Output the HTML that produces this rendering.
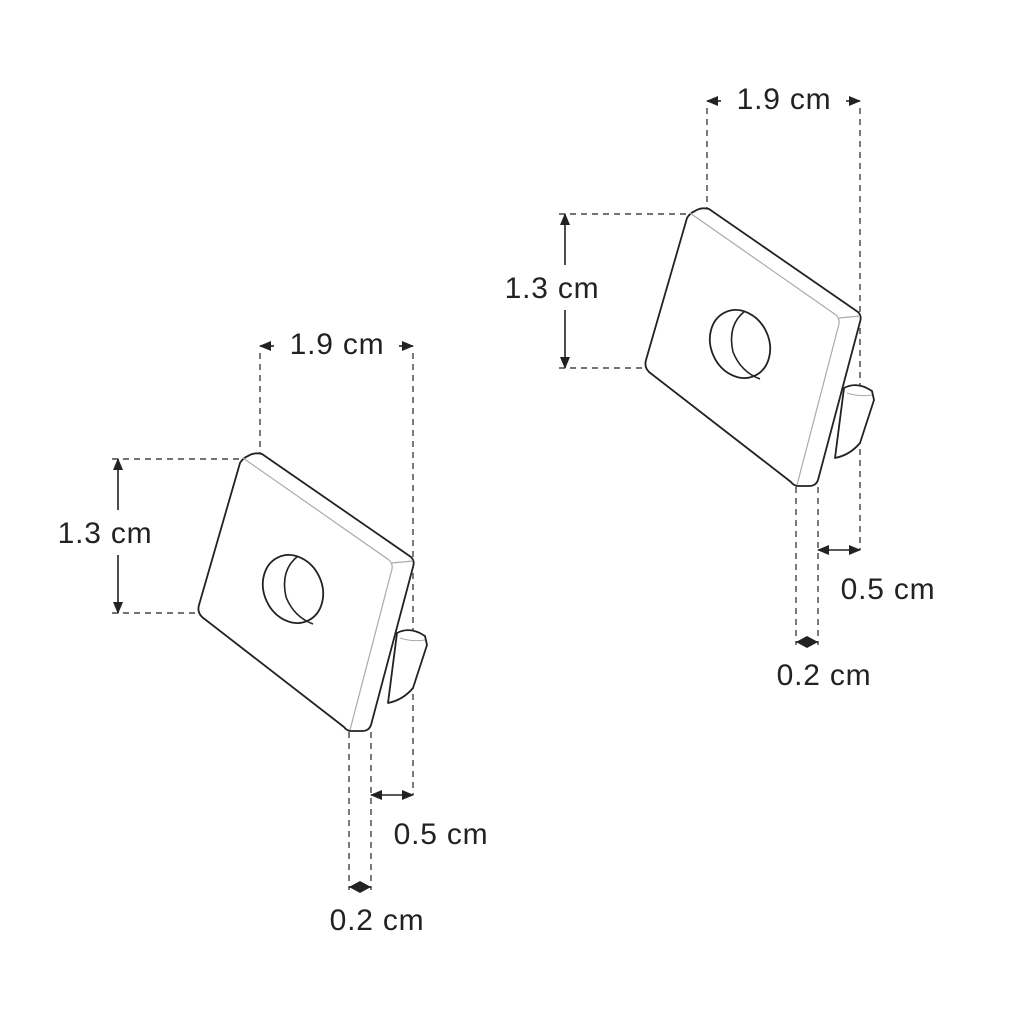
<!DOCTYPE html>
<html><head><style>body{margin:0;background:#fff}svg{display:block}text{font-family:"Liberation Sans",sans-serif;font-size:30px;letter-spacing:0.8px;fill:#222}</style></head>
<body>
<svg width="1024" height="1024" viewBox="0 0 1024 1024" xmlns="http://www.w3.org/2000/svg">
<defs>
<marker id="a" markerWidth="12" markerHeight="10" refX="11" refY="5" orient="auto" markerUnits="userSpaceOnUse"><path d="M0,0 L12,5 L0,10Z" fill="#222"/></marker>
<g id="obj">
<g fill="none" stroke="#222" stroke-width="1.2" stroke-dasharray="6,5">
<path d="M260,353V453M413,353V795M112,459H245M112,613H200M349,732V890M371,732V890"/>
</g>
<g stroke="#222" stroke-width="1.6" fill="none">
<path d="M274,346H260" marker-end="url(#a)"/><path d="M399,346H413" marker-end="url(#a)"/>
<path d="M118,510V459" marker-end="url(#a)"/><path d="M118,555V613" marker-end="url(#a)"/>
<path d="M392,795H371" marker-end="url(#a)"/><path d="M392,795H413" marker-end="url(#a)"/>
</g>
<path d="M349,887L360,881L371,887L360,893Z" fill="#222"/>
<path d="M349,887H371" stroke="#222" stroke-width="1.5"/>
<!-- tab -->
<path d="M397,633 Q410,626 425,636 L427,645 L413,688 Q403,700 388,703 Z" fill="#fff" stroke="#222" stroke-width="1.8" stroke-linejoin="round"/>
<path d="M400,638 Q412,642 425,640" fill="none" stroke="#aaa" stroke-width="1"/>
<!-- plate -->
<path d="M248,456 Q254,452 262,454 L411,557 Q415,561 413,567 L371,725 Q369,731 362,731 L350,731 Q346,730 344,727 L202,617 Q197,612 199,605 L240,463 Q243,458 248,456 Z" fill="#fff" stroke="#222" stroke-width="1.8" stroke-linejoin="round"/>
<path d="M243,458 L389,560 Q393,564 392,569 L350,730 M392,563 L413,561" fill="none" stroke="#aaa" stroke-width="1.2"/>
<!-- hole -->
<ellipse cx="293" cy="589" rx="29" ry="35" transform="rotate(-25 293 589)" fill="#fff" stroke="#222" stroke-width="1.8"/>
<path d="M298,556 Q280,570 286,597 Q294,617 313,624" fill="none" stroke="#222" stroke-width="1.6"/>
</g>
</defs>
<use href="#obj"/>
<use href="#obj" transform="translate(447,-245)"/>
<text x="337" y="354" text-anchor="middle">1.9 cm</text>
<text x="105" y="543" text-anchor="middle">1.3 cm</text>
<text x="441" y="844" text-anchor="middle">0.5 cm</text>
<text x="377" y="930" text-anchor="middle">0.2 cm</text>
<text x="784" y="109" text-anchor="middle">1.9 cm</text>
<text x="552" y="298" text-anchor="middle">1.3 cm</text>
<text x="888" y="599" text-anchor="middle">0.5 cm</text>
<text x="824" y="685" text-anchor="middle">0.2 cm</text>
</svg>
</body></html>
